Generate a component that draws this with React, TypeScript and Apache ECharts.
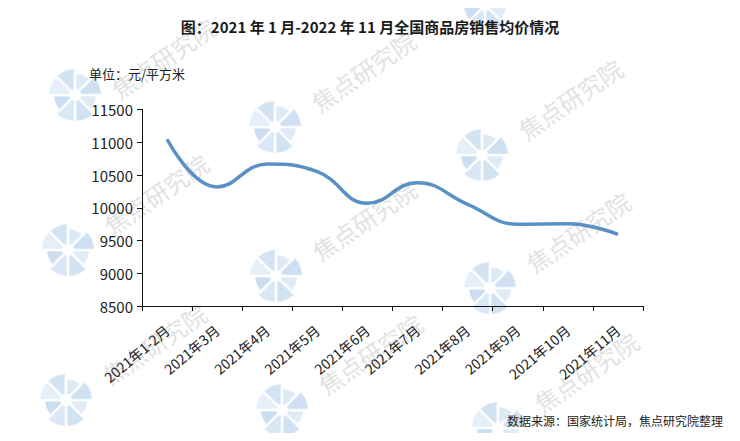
import React, { useEffect, useRef } from "react";
import * as echarts from "echarts";

const titleText = "图：2021 年 1 月-2022 年 11 月全国商品房销售均价情况";
const unitText = "单位：元/平方米";
const sourceText = "数据来源：国家统计局，焦点研究院整理";
const categories = [
  "2021年1-2月",
  "2021年3月",
  "2021年4月",
  "2021年5月",
  "2021年6月",
  "2021年7月",
  "2021年8月",
  "2021年9月",
  "2021年10月",
  "2021年11月",
];
const avgPrice = [11045, 10317, 10668, 10551, 10068, 10383, 10053, 9748, 9757, 9595];
const yMin = 8500;
const yMax = 11500;
const yStep = 500;

// watermark layout: [logoX, logoY, showText]
const watermarkSpots: [number, number, boolean][] = [
  [75, 95, true], [275, 127, true], [482, 155, true],
  [68, 250, true], [276, 276, true], [490, 288, true],
  [66, 400, true], [282, 410, true], [498, 428, true], [485, 5, false],
];

const FONT = "'Noto Sans CJK SC', 'Noto Sans', sans-serif";

function logo(cx: number, cy: number) {
  const colors = ["#dbe8f6", "#c9ddf1", "#d3e3f4", "#c2d8ee", "#e0ecf8", "#cbdef1", "#d6e6f5", "#c6daef"];
  const children: any[] = [];
  const n = 8;
  for (let i = 0; i < n; i++) {
    const a0 = (i / n) * Math.PI * 2;
    const a1 = ((i + 1) / n) * Math.PI * 2;
    children.push({
      type: "sector",
      shape: { cx, cy, r0: 5, r: i % 3 === 0 ? 22 : 27, startAngle: a0, endAngle: a1 },
      style: { fill: colors[i], stroke: "#ffffff", lineWidth: 2.5, opacity: 0.85 },
      silent: true,
    });
  }
  return { type: "group", children, z: -10, silent: true };
}

function wmText(cx: number, cy: number) {
  return {
    type: "text",
    x: cx + 88,
    y: Math.max(cy - 56, 58),
    rotation: 0.6,
    z: -10,
    silent: true,
    style: {
      text: "焦点研究院",
      font: `24px ${FONT}`,
      fill: "#e2e2e2",
      align: "center",
      verticalAlign: "middle",
    },
  };
}

export default function App() {
  const ref = useRef<HTMLDivElement>(null);
  useEffect(() => {
    if (!ref.current) return;
    const chart = echarts.init(ref.current, undefined, { renderer: "svg" });
    const graphics: any[] = [];
    watermarkSpots.forEach(([x, y, t]) => {
      graphics.push(logo(x, y));
      if (t) graphics.push(wmText(x, y));
    });
    graphics.push({
      type: "text",
      left: 89,
      top: 67,
      style: { text: unitText, font: `13px ${FONT}`, fill: "#222" },
    });
    graphics.push({
      type: "text",
      right: 17,
      top: 414,
      style: { text: sourceText, font: `12px ${FONT}`, fill: "#222" },
    });
    chart.setOption({
      animation: false,
      backgroundColor: "#ffffff",
      title: {
        text: titleText,
        left: "center",
        top: 14,
        textStyle: { fontFamily: FONT, fontSize: 15, fontWeight: "bold", color: "#1a1a1a" },
      },
      graphic: graphics,
      grid: { left: 142, right: 97, top: 109.5, bottom: 135 },
      xAxis: {
        type: "category",
        data: categories,
        boundaryGap: true,
        axisLine: { lineStyle: { color: "#111", width: 1 } },
        axisTick: { show: true, length: 5, lineStyle: { color: "#111" } },
        axisLabel: { rotate: 40, fontSize: 14, color: "#222", fontFamily: FONT, margin: 22, interval: 0 },
      },
      yAxis: {
        type: "value",
        min: yMin,
        max: yMax,
        interval: yStep,
        axisLine: { show: true, lineStyle: { color: "#111", width: 1 } },
        axisTick: { show: true, length: 5, lineStyle: { color: "#111" } },
        splitLine: { show: false },
        axisLabel: {
          fontSize: 15,
          color: "#222",
          fontFamily: FONT,
          margin: 9,
          formatter: (v: number) => String(v),
        },
      },
      series: [
        {
          type: "line",
          data: avgPrice,
          smooth: 0.45,
          symbol: "none",
          z: 5,
          lineStyle: { color: "#5a91c5", width: 3.5 },
        },
      ],
    });
    return () => chart.dispose();
  }, []);
  return <div ref={ref} style={{ width: 740, height: 441, margin: -8 }} />;
}
